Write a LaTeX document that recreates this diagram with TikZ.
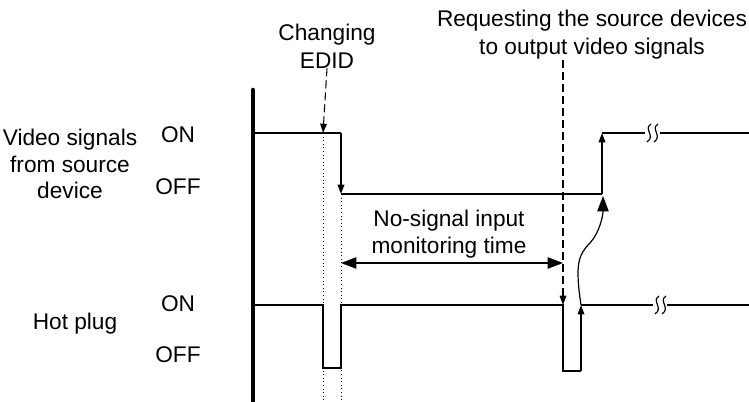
\documentclass[tikz,border=0pt]{standalone}
\usepackage{fontspec}
\setmainfont{Liberation Sans}
\usetikzlibrary{arrows.meta}

\tikzset{
  lbl/.style={font=\fontsize{17}{20}\selectfont, align=center, inner sep=0pt},
  wave/.style={line width=0.9pt},
  guide/.style={dotted, line width=0.7pt},
  cue/.style={dashed, line width=0.8pt, dash pattern=on 6pt off 3pt},
  tip/.style={-{Triangle[length=7pt,width=5pt]}},
  bigtip/.style={-{Triangle[length=11.5pt,width=8.5pt]}},
  gap/.pic={
    \draw[wave] (-1,-9) .. controls (-9,-4) and (4,3) .. (-5,9);
    \draw[wave] (6,-9) .. controls (-2,-4) and (11,3) .. (2,9);
  }
}

\begin{document}
\begin{tikzpicture}[x=0.75pt, y=-0.75pt]
	\useasboundingbox (0,0) rectangle (749,402);
	
	% labels on the left
	\node[lbl] (vidlbl) at (70,164) {Video signals\\from source\\device};
	\node[lbl] (hplbl) at (75,324) {Hot plug};
	\node[lbl] (von) at (178,135) {ON};
	\node[lbl] (voff) at (178,187) {OFF};
	\node[lbl] (hon) at (178,304) {ON};
	\node[lbl] (hoff) at (178,355) {OFF};
	
	% event labels
	\node[lbl, font=\fontsize{17}{21}\selectfont] (edid) at (327,46) {Changing\\EDID};
	\node[lbl, font=\fontsize{17}{21}\selectfont] (request) at (592,35) {Requesting the source devices\\to output video signals};
	\node[lbl] (nosig) at (449,234) {No-signal input\\monitoring time};
	
	% time origin
	\draw[line width=3.4pt, line cap=round] (253,90) -- (253,402);
	
	% video signal points
	\coordinate (v0) at (255,133);
	\coordinate (v1) at (323,133);
	\coordinate (v2) at (341,133);
	\coordinate (v3) at (341,194);
	\coordinate (v4) at (602,194);
	\coordinate (v5) at (602,133);
	\coordinate (v6) at (645,133);
	\coordinate (v7) at (660,133);
	\coordinate (v8) at (749,133);
	
	% hot plug points
	\coordinate (h0) at (255,305);
	\coordinate (h1) at (323,305);
	\coordinate (h2) at (323,368);
	\coordinate (h3) at (341,368);
	\coordinate (h4) at (341,305);
	\coordinate (h5) at (563,305);
	\coordinate (h6) at (563,371);
	\coordinate (h7) at (581,371);
	\coordinate (h8) at (581,305);
	\coordinate (h9) at (653,305);
	\coordinate (h10) at (667,305);
	\coordinate (h11) at (749,305);
	
	% guides of the EDID change
	\draw[guide] (v1) -- (323,402);
	\draw[guide] (v3) -- (341,402);
	
	% video signals from source device
	\draw[wave] (v0) -- (v2);
	\draw[wave, tip] (v2) -- (v3);
	\draw[wave] (v3) -- (v4);
	\draw[wave, tip] (v4) -- (v5);
	\draw[wave] (v5) -- (v6);
	\pic at (652,133) {gap};
	\draw[wave] (v7) -- (v8);
	
	% hot plug
	\draw[wave] (h0) -- (h1) -- (h2) -- (h3) -- (h4) -- (h5) -- (h6) -- (h7);
	\draw[wave, tip] (h7) -- (h8);
	\draw[wave] (h8) -- (h9);
	\pic at (660,305) {gap};
	\draw[wave] (h10) -- (h11);
	
	% event markers
	\draw[cue, tip] (edid.south) -- (v1);
	\draw[cue, tip] (request.south -| h5) -- (h5);
	
	% monitoring time
	\draw[wave, {Triangle[length=11.5pt,width=8.5pt]}-{Triangle[length=11.5pt,width=8.5pt]}] (341,263) -- (563,263);
	
	% hot plug triggers the video output
	\draw[wave, bigtip] (h8) .. controls (575,265) and (578,255) .. (590,243)
		.. controls (600,232) and (603,215) .. (603,196);
\end{tikzpicture}
\end{document}
